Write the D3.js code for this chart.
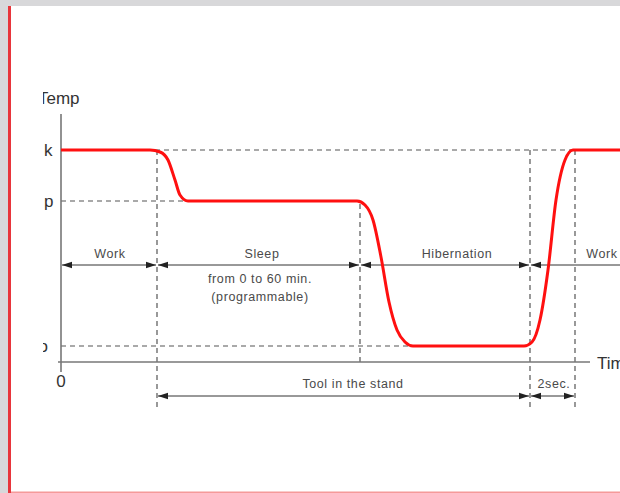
<!DOCTYPE html>
<html>
<head>
<meta charset="utf-8">
<script src="https://cdnjs.cloudflare.com/ajax/libs/d3/7.8.5/d3.min.js"></script>
<style>
    html, body { margin: 0; padding: 0; background: #fff; }
    svg { display: block; }
    text { font-family: "Liberation Sans", Arial, sans-serif; }
    .note { font-size: 12.5px; letter-spacing: 0.6px; fill: #4a4a4a; }
</style>
</head>
<body>
<svg id="chart" width="620" height="493"></svg>
<script>
// Temperature profile of the tool (time and temp in arbitrary units)
const curveTime = [0, 89, 99, 107, 114, 119, 127, 296, 304, 312, 320, 328, 336, 344, 352, 463, 471, 479, 487, 495, 504, 512, 565];
const curveTemp = [212, 212, 210, 202, 182, 167, 161, 161, 157, 142, 105, 60, 32, 20, 16, 16, 20, 42, 92, 162, 202, 212, 212];

// Temperature levels: work, sleep, hibernation
const levelNames = ['k', 'p', 'o'];
const levelTemp = [212, 161, 16];

// Phases along the upper arrow row
const phaseNames = ['Work', 'Sleep', 'Hibernation', 'Work'];
const phaseStart = [0, 96, 299, 469];
const phaseEnd = [96, 299, 469, 580];
const phaseLabelAt = [49, 201, 396, 541];

// Lower arrow row
const spanNames = ['Tool in the stand', '2sec.'];
const spanStart = [96, 469];
const spanEnd = [469, 514];
const spanLabelAt = [292, 493];

const svg = d3.select('#chart');

// page frame
svg.append('rect').attr('width', 620).attr('height', 493).attr('fill', '#d8d8da');
svg.append('rect').attr('x', 11).attr('y', 6).attr('width', 609).attr('height', 487).attr('fill', '#fff');
svg.append('rect').attr('x', 8).attr('y', 6).attr('width', 3).attr('height', 487).attr('fill', '#e8353b');
svg.append('rect').attr('x', 11).attr('y', 491.5).attr('width', 609).attr('height', 1.5).attr('fill', '#f59a9a');

let x = d3.scaleLinear().domain([0, 560]).range([61, 621]),
    y = d3.scaleLinear().domain([0, 250]).range([362, 112]);

svg.append('clipPath').attr('id', 'clip')
  .append('rect').attr('x', 43).attr('y', 6).attr('width', 577).attr('height', 485);

const g = svg.append('g').attr('clip-path', 'url(#clip)');

const defs = svg.append('defs');
['start', 'end'].forEach(kind => {
    defs.append('marker')
        .attr('id', 'arrow-' + kind)
        .attr('markerUnits', 'userSpaceOnUse')
        .attr('viewBox', '0 -4 10 8')
        .attr('refX', kind === 'end' ? 10 : 0)
        .attr('refY', 0)
        .attr('markerWidth', 10)
        .attr('markerHeight', 8)
        .attr('orient', 'auto')
      .append('path')
        .attr('d', kind === 'end' ? 'M0,-3.2L10,0L0,3.2Z' : 'M10,-3.2L0,0L10,3.2Z')
        .attr('fill', '#222');
});

const dash = sel => sel.attr('stroke', '#555').attr('stroke-width', 1.2).attr('stroke-dasharray', '5,4').attr('fill', 'none');

// horizontal guides
dash(g.append('line').attr('x1', x(94)).attr('x2', x(512)).attr('y1', y(212)).attr('y2', y(212)));
dash(g.append('line').attr('x1', x(0)).attr('x2', x(125)).attr('y1', y(161)).attr('y2', y(161)));
dash(g.append('line').attr('x1', x(0)).attr('x2', x(350)).attr('y1', y(16)).attr('y2', y(16)));

// vertical guides
dash(g.append('line').attr('x1', x(96)).attr('x2', x(96)).attr('y1', y(212)).attr('y2', y(-48)));
dash(g.append('line').attr('x1', x(299)).attr('x2', x(299)).attr('y1', y(158)).attr('y2', y(0)));
dash(g.append('line').attr('x1', x(469)).attr('x2', x(469)).attr('y1', y(212)).attr('y2', y(-48)));
dash(g.append('line').attr('x1', x(514)).attr('x2', x(514)).attr('y1', y(212)).attr('y2', y(-48)));

// axes
g.append('line').attr('x1', x(0)).attr('x2', x(0)).attr('y1', y(248)).attr('y2', y(-10))
    .attr('stroke', '#777').attr('stroke-width', 1.6);
g.append('line').attr('x1', x(-3)).attr('x2', x(529)).attr('y1', y(0)).attr('y2', y(0))
    .attr('stroke', '#777').attr('stroke-width', 1.6);

g.append('text').attr('x', 38).attr('y', y(258)).attr('font-size', 17).attr('fill', '#333').text('Temp');
// axis title runs past the right edge, as in the source figure
g.append('text').attr('x', x(536)).attr('y', y(-7)).attr('font-size', 17).attr('fill', '#333').text('Time');
g.append('text').attr('x', x(0)).attr('y', y(-25)).attr('font-size', 17).attr('fill', '#333')
    .attr('text-anchor', 'middle').text('0');

g.selectAll('.level-label')
    .data(levelNames)
  .enter().append('text')
    .attr('class', 'level-label')
    .attr('x', (d, i) => i === 2 ? 38.5 : 44)
    .attr('y', (d, i) => y(levelTemp[i]) + 6)
    .attr('font-size', 17)
    .attr('fill', '#333')
    .text(d => d);

// upper arrow row
const rowY = y(97);
g.selectAll('.phase-arrow')
    .data(phaseNames)
  .enter().append('line')
    .attr('class', 'phase-arrow')
    .attr('x1', (d, i) => x(phaseStart[i]) + 1)
    .attr('x2', (d, i) => x(phaseEnd[i]) - 1)
    .attr('y1', rowY).attr('y2', rowY)
    .attr('stroke', '#333').attr('stroke-width', 1)
    .attr('marker-start', 'url(#arrow-start)')
    .attr('marker-end', (d, i) => i === 3 ? null : 'url(#arrow-end)');

g.selectAll('.phase-label')
    .data(phaseNames)
  .enter().append('text')
    .attr('class', 'phase-label note')
    .attr('x', (d, i) => x(phaseLabelAt[i]))
    .attr('y', rowY - 7)
    .attr('text-anchor', 'middle')
    .text(d => d);

g.append('text').attr('class', 'note').attr('x', x(199)).attr('y', rowY + 18)
    .attr('text-anchor', 'middle').text('from 0 to 60 min.');
g.append('text').attr('class', 'note').attr('x', x(199)).attr('y', rowY + 36)
    .attr('text-anchor', 'middle').text('(programmable)');

// lower arrow row
const lowY = y(-34);
g.selectAll('.span-arrow')
    .data(spanNames)
  .enter().append('line')
    .attr('class', 'span-arrow')
    .attr('x1', (d, i) => x(spanStart[i]) + 1)
    .attr('x2', (d, i) => x(spanEnd[i]) - 1)
    .attr('y1', lowY).attr('y2', lowY)
    .attr('stroke', '#333').attr('stroke-width', 1)
    .attr('marker-start', 'url(#arrow-start)')
    .attr('marker-end', 'url(#arrow-end)');

g.selectAll('.span-label')
    .data(spanNames)
  .enter().append('text')
    .attr('class', 'span-label note')
    .attr('x', (d, i) => x(spanLabelAt[i]))
    .attr('y', lowY - 8)
    .attr('text-anchor', 'middle')
    .text(d => d);

// temperature curve
const line = d3.line()
    .x(d => x(d[0]))
    .y(d => y(d[1]))
    .curve(d3.curveMonotoneX);

g.append('path')
    .datum(d3.zip(curveTime, curveTemp))
    .attr('d', line)
    .attr('fill', 'none')
    .attr('stroke', '#ff1010')
    .attr('stroke-width', 3);
</script>
</body>
</html>
